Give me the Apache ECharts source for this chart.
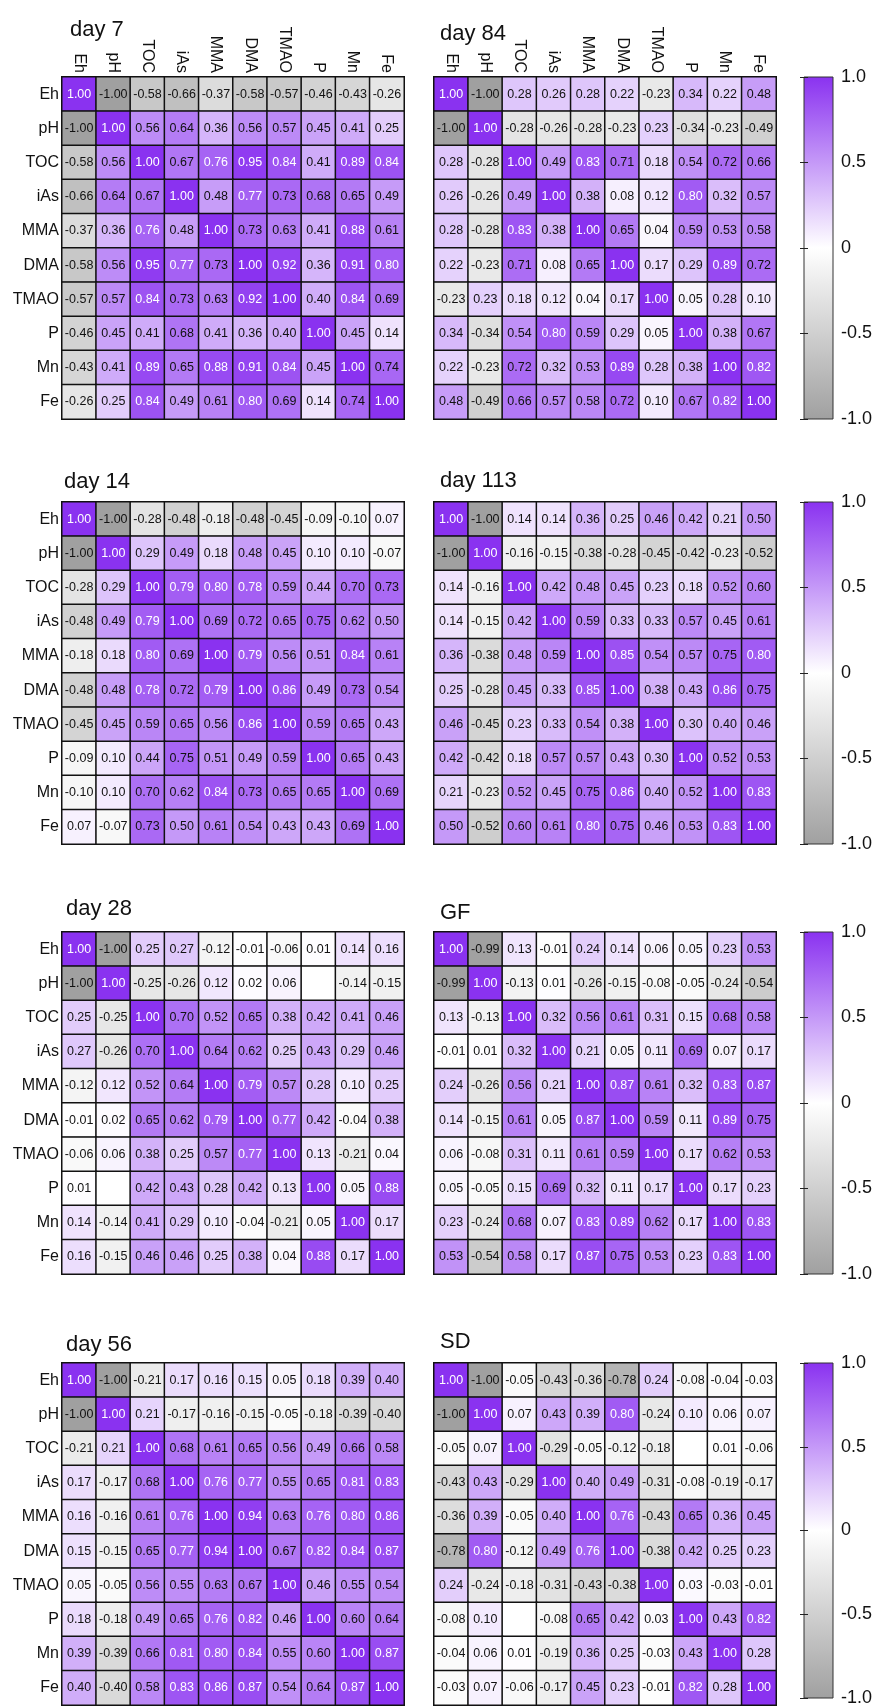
<!DOCTYPE html>
<html>
<head>
<meta charset="utf-8">
<script src="https://cdn.jsdelivr.net/npm/echarts@6/dist/echarts.min.js"></script>
<style>
html, body { margin: 0; padding: 0; background: #fff; }
#main { width: 877px; height: 1707px; }
</style>
</head>
<body>
<div id="main"></div>
<script>
const variables = ["Eh", "pH", "TOC", "iAs", "MMA", "DMA", "TMAO", "P", "Mn", "Fe"];
const panelTitles = ["day 7", "day 84", "day 14", "day 113", "day 28", "GF", "day 56", "SD"];
const scaleColors = ["#a0a0a0", "#ffffff", "#8a32f0"];

const day7 = [
  [1.00, -1.00, -0.58, -0.66, -0.37, -0.58, -0.57, -0.46, -0.43, -0.26],
  [-1.00, 1.00, 0.56, 0.64, 0.36, 0.56, 0.57, 0.45, 0.41, 0.25],
  [-0.58, 0.56, 1.00, 0.67, 0.76, 0.95, 0.84, 0.41, 0.89, 0.84],
  [-0.66, 0.64, 0.67, 1.00, 0.48, 0.77, 0.73, 0.68, 0.65, 0.49],
  [-0.37, 0.36, 0.76, 0.48, 1.00, 0.73, 0.63, 0.41, 0.88, 0.61],
  [-0.58, 0.56, 0.95, 0.77, 0.73, 1.00, 0.92, 0.36, 0.91, 0.80],
  [-0.57, 0.57, 0.84, 0.73, 0.63, 0.92, 1.00, 0.40, 0.84, 0.69],
  [-0.46, 0.45, 0.41, 0.68, 0.41, 0.36, 0.40, 1.00, 0.45, 0.14],
  [-0.43, 0.41, 0.89, 0.65, 0.88, 0.91, 0.84, 0.45, 1.00, 0.74],
  [-0.26, 0.25, 0.84, 0.49, 0.61, 0.80, 0.69, 0.14, 0.74, 1.00]
];
const day84 = [
  [1.00, -1.00, 0.28, 0.26, 0.28, 0.22, -0.23, 0.34, 0.22, 0.48],
  [-1.00, 1.00, -0.28, -0.26, -0.28, -0.23, 0.23, -0.34, -0.23, -0.49],
  [0.28, -0.28, 1.00, 0.49, 0.83, 0.71, 0.18, 0.54, 0.72, 0.66],
  [0.26, -0.26, 0.49, 1.00, 0.38, 0.08, 0.12, 0.80, 0.32, 0.57],
  [0.28, -0.28, 0.83, 0.38, 1.00, 0.65, 0.04, 0.59, 0.53, 0.58],
  [0.22, -0.23, 0.71, 0.08, 0.65, 1.00, 0.17, 0.29, 0.89, 0.72],
  [-0.23, 0.23, 0.18, 0.12, 0.04, 0.17, 1.00, 0.05, 0.28, 0.10],
  [0.34, -0.34, 0.54, 0.80, 0.59, 0.29, 0.05, 1.00, 0.38, 0.67],
  [0.22, -0.23, 0.72, 0.32, 0.53, 0.89, 0.28, 0.38, 1.00, 0.82],
  [0.48, -0.49, 0.66, 0.57, 0.58, 0.72, 0.10, 0.67, 0.82, 1.00]
];
const day14 = [
  [1.00, -1.00, -0.28, -0.48, -0.18, -0.48, -0.45, -0.09, -0.10, 0.07],
  [-1.00, 1.00, 0.29, 0.49, 0.18, 0.48, 0.45, 0.10, 0.10, -0.07],
  [-0.28, 0.29, 1.00, 0.79, 0.80, 0.78, 0.59, 0.44, 0.70, 0.73],
  [-0.48, 0.49, 0.79, 1.00, 0.69, 0.72, 0.65, 0.75, 0.62, 0.50],
  [-0.18, 0.18, 0.80, 0.69, 1.00, 0.79, 0.56, 0.51, 0.84, 0.61],
  [-0.48, 0.48, 0.78, 0.72, 0.79, 1.00, 0.86, 0.49, 0.73, 0.54],
  [-0.45, 0.45, 0.59, 0.65, 0.56, 0.86, 1.00, 0.59, 0.65, 0.43],
  [-0.09, 0.10, 0.44, 0.75, 0.51, 0.49, 0.59, 1.00, 0.65, 0.43],
  [-0.10, 0.10, 0.70, 0.62, 0.84, 0.73, 0.65, 0.65, 1.00, 0.69],
  [0.07, -0.07, 0.73, 0.50, 0.61, 0.54, 0.43, 0.43, 0.69, 1.00]
];
const day113 = [
  [1.00, -1.00, 0.14, 0.14, 0.36, 0.25, 0.46, 0.42, 0.21, 0.50],
  [-1.00, 1.00, -0.16, -0.15, -0.38, -0.28, -0.45, -0.42, -0.23, -0.52],
  [0.14, -0.16, 1.00, 0.42, 0.48, 0.45, 0.23, 0.18, 0.52, 0.60],
  [0.14, -0.15, 0.42, 1.00, 0.59, 0.33, 0.33, 0.57, 0.45, 0.61],
  [0.36, -0.38, 0.48, 0.59, 1.00, 0.85, 0.54, 0.57, 0.75, 0.80],
  [0.25, -0.28, 0.45, 0.33, 0.85, 1.00, 0.38, 0.43, 0.86, 0.75],
  [0.46, -0.45, 0.23, 0.33, 0.54, 0.38, 1.00, 0.30, 0.40, 0.46],
  [0.42, -0.42, 0.18, 0.57, 0.57, 0.43, 0.30, 1.00, 0.52, 0.53],
  [0.21, -0.23, 0.52, 0.45, 0.75, 0.86, 0.40, 0.52, 1.00, 0.83],
  [0.50, -0.52, 0.60, 0.61, 0.80, 0.75, 0.46, 0.53, 0.83, 1.00]
];
const day28 = [
  [1.00, -1.00, 0.25, 0.27, -0.12, -0.01, -0.06, 0.01, 0.14, 0.16],
  [-1.00, 1.00, -0.25, -0.26, 0.12, 0.02, 0.06, null, -0.14, -0.15],
  [0.25, -0.25, 1.00, 0.70, 0.52, 0.65, 0.38, 0.42, 0.41, 0.46],
  [0.27, -0.26, 0.70, 1.00, 0.64, 0.62, 0.25, 0.43, 0.29, 0.46],
  [-0.12, 0.12, 0.52, 0.64, 1.00, 0.79, 0.57, 0.28, 0.10, 0.25],
  [-0.01, 0.02, 0.65, 0.62, 0.79, 1.00, 0.77, 0.42, -0.04, 0.38],
  [-0.06, 0.06, 0.38, 0.25, 0.57, 0.77, 1.00, 0.13, -0.21, 0.04],
  [0.01, null, 0.42, 0.43, 0.28, 0.42, 0.13, 1.00, 0.05, 0.88],
  [0.14, -0.14, 0.41, 0.29, 0.10, -0.04, -0.21, 0.05, 1.00, 0.17],
  [0.16, -0.15, 0.46, 0.46, 0.25, 0.38, 0.04, 0.88, 0.17, 1.00]
];
const gf = [
  [1.00, -0.99, 0.13, -0.01, 0.24, 0.14, 0.06, 0.05, 0.23, 0.53],
  [-0.99, 1.00, -0.13, 0.01, -0.26, -0.15, -0.08, -0.05, -0.24, -0.54],
  [0.13, -0.13, 1.00, 0.32, 0.56, 0.61, 0.31, 0.15, 0.68, 0.58],
  [-0.01, 0.01, 0.32, 1.00, 0.21, 0.05, 0.11, 0.69, 0.07, 0.17],
  [0.24, -0.26, 0.56, 0.21, 1.00, 0.87, 0.61, 0.32, 0.83, 0.87],
  [0.14, -0.15, 0.61, 0.05, 0.87, 1.00, 0.59, 0.11, 0.89, 0.75],
  [0.06, -0.08, 0.31, 0.11, 0.61, 0.59, 1.00, 0.17, 0.62, 0.53],
  [0.05, -0.05, 0.15, 0.69, 0.32, 0.11, 0.17, 1.00, 0.17, 0.23],
  [0.23, -0.24, 0.68, 0.07, 0.83, 0.89, 0.62, 0.17, 1.00, 0.83],
  [0.53, -0.54, 0.58, 0.17, 0.87, 0.75, 0.53, 0.23, 0.83, 1.00]
];
const day56 = [
  [1.00, -1.00, -0.21, 0.17, 0.16, 0.15, 0.05, 0.18, 0.39, 0.40],
  [-1.00, 1.00, 0.21, -0.17, -0.16, -0.15, -0.05, -0.18, -0.39, -0.40],
  [-0.21, 0.21, 1.00, 0.68, 0.61, 0.65, 0.56, 0.49, 0.66, 0.58],
  [0.17, -0.17, 0.68, 1.00, 0.76, 0.77, 0.55, 0.65, 0.81, 0.83],
  [0.16, -0.16, 0.61, 0.76, 1.00, 0.94, 0.63, 0.76, 0.80, 0.86],
  [0.15, -0.15, 0.65, 0.77, 0.94, 1.00, 0.67, 0.82, 0.84, 0.87],
  [0.05, -0.05, 0.56, 0.55, 0.63, 0.67, 1.00, 0.46, 0.55, 0.54],
  [0.18, -0.18, 0.49, 0.65, 0.76, 0.82, 0.46, 1.00, 0.60, 0.64],
  [0.39, -0.39, 0.66, 0.81, 0.80, 0.84, 0.55, 0.60, 1.00, 0.87],
  [0.40, -0.40, 0.58, 0.83, 0.86, 0.87, 0.54, 0.64, 0.87, 1.00]
];
const sd = [
  [1.00, -1.00, -0.05, -0.43, -0.36, -0.78, 0.24, -0.08, -0.04, -0.03],
  [-1.00, 1.00, 0.07, 0.43, 0.39, 0.80, -0.24, 0.10, 0.06, 0.07],
  [-0.05, 0.07, 1.00, -0.29, -0.05, -0.12, -0.18, null, 0.01, -0.06],
  [-0.43, 0.43, -0.29, 1.00, 0.40, 0.49, -0.31, -0.08, -0.19, -0.17],
  [-0.36, 0.39, -0.05, 0.40, 1.00, 0.76, -0.43, 0.65, 0.36, 0.45],
  [-0.78, 0.80, -0.12, 0.49, 0.76, 1.00, -0.38, 0.42, 0.25, 0.23],
  [0.24, -0.24, -0.18, -0.31, -0.43, -0.38, 1.00, 0.03, -0.03, -0.01],
  [-0.08, 0.10, null, -0.08, 0.65, 0.42, 0.03, 1.00, 0.43, 0.82],
  [-0.04, 0.06, 0.01, -0.19, 0.36, 0.25, -0.03, 0.43, 1.00, 0.28],
  [-0.03, 0.07, -0.06, -0.17, 0.45, 0.23, -0.01, 0.82, 0.28, 1.00]
];
const panels = [day7, day84, day14, day113, day28, gf, day56, sd];

var chartDom = document.getElementById("main");
var myChart = echarts.init(chartDom);

// layout of the 4x2 panels plus one colour bar per row
const colX = [62, 434];
const rowY = [77, 502, 932, 1363];
const size = 342;
const titlePos = [[65, 14], [435, 18], [59, 466], [435, 465], [61, 893], [435, 897], [61, 1329], [435, 1326]];
const whiteText = 0.755;

var grids = [], xAxes = [], yAxes = [], series = [], titles = [];

panels.forEach((m, k) => {
  const r = Math.floor(k / 2), c = k % 2;
  grids.push({
    left: colX[c], top: rowY[r], width: size, height: size,
    show: true, borderColor: "#111", borderWidth: 1.5, backgroundColor: "#fff",
  });
  titles.push({
    text: panelTitles[k], left: titlePos[k][0], top: titlePos[k][1],
    textStyle: { fontSize: 22, fontWeight: "normal", color: "#111", fontFamily: "Liberation Sans, Arial, sans-serif" },
  });
  xAxes.push({
    gridIndex: k, type: "category", data: variables, position: "top",
    axisLine: { show: false }, axisTick: { show: false }, splitLine: { show: false },
    axisLabel: { show: r === 0, rotate: 90, margin: 4, fontSize: 16, color: "#111" },
  });
  yAxes.push({
    gridIndex: k, type: "category", data: variables, inverse: true,
    axisLine: { show: false }, axisTick: { show: false }, splitLine: { show: false },
    axisLabel: { show: c === 0, margin: 3, fontSize: 16, color: "#111" },
  });
  const data = [];
  m.forEach((row, i) => row.forEach((v, j) => {
    if (v === null) data.push({ value: [j, i, 0], label: { show: false } });
    else data.push({ value: [j, i, v], label: { color: v >= whiteText ? "#fff" : "#111" } });
  }));
  series.push({
    type: "heatmap", name: panelTitles[k], xAxisIndex: k, yAxisIndex: k, data: data,
    label: { show: true, fontSize: 12.5, formatter: (p) => p.value[2].toFixed(2) },
    itemStyle: { borderColor: "#111", borderWidth: 1.5 },
    emphasis: { disabled: true },
  });
});

// colour bars
rowY.forEach((top, r) => {
  const g = grids.length;
  grids.push({
    left: 804, top: top, width: 29, height: size, show: true,
    borderColor: "#333", borderWidth: 1,
    backgroundColor: new echarts.graphic.LinearGradient(0, 0, 0, 1, [
      { offset: 0, color: scaleColors[2] },
      { offset: 0.5, color: scaleColors[1] },
      { offset: 1, color: scaleColors[0] },
    ]),
  });
  xAxes.push({ gridIndex: g, type: "value", min: 0, max: 1, show: false });
  yAxes.push({
    gridIndex: g, type: "value", min: -1, max: 1, interval: 0.5, position: "right",
    axisLine: { show: false }, splitLine: { show: false },
    axisTick: { show: true, inside: true, length: 4, lineStyle: { color: "#222" } },
    axisLabel: { margin: 8, fontSize: 18, color: "#111", formatter: (v) => (v === 0 ? "0" : v.toFixed(1)) },
  });
  yAxes.push({
    gridIndex: g, type: "value", min: -1, max: 1, interval: 0.5, position: "left",
    axisLine: { show: false }, splitLine: { show: false },
    axisTick: { show: true, inside: true, length: 4, lineStyle: { color: "#222" } },
    axisLabel: { show: false },
  });
});

var option = {
  backgroundColor: "#fff",
  animation: false,
  textStyle: { fontFamily: "Liberation Sans, Arial, sans-serif" },
  title: titles,
  grid: grids,
  xAxis: xAxes,
  yAxis: yAxes,
  visualMap: {
    show: false, type: "continuous", min: -1, max: 1, dimension: 2,
    seriesIndex: [0, 1, 2, 3, 4, 5, 6, 7],
    inRange: { color: scaleColors },
  },
  series: series,
};

option && myChart.setOption(option);
</script>
</body>
</html>
